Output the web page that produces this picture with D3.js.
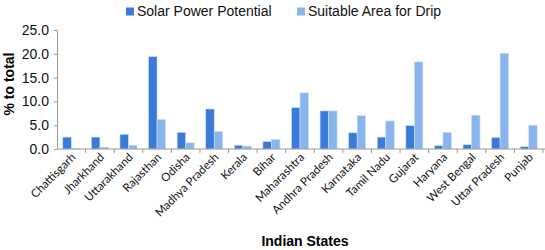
<!DOCTYPE html>
<html>
<head>
<meta charset="utf-8">
<script src="https://cdn.jsdelivr.net/npm/d3@7"></script>
<style>
  body { margin: 0; background: #fff; }
  svg { display: block; }
</style>
</head>
<body>
<div id="chart"></div>
<script>
// values
const states = ["Chattisgarh", "Jharkhand", "Uttarakhand", "Rajasthan", "Odisha", "Madhya Pradesh",
  "Kerala", "Bihar", "Maharashtra", "Andhra Pradesh", "Karnataka", "Tamil Nadu", "Gujarat",
  "Haryana", "West Bengal", "Uttar Pradesh", "Punjab"];
const solarPotential = [2.5, 2.5, 3.1, 19.4, 3.5, 8.4, 0.8, 1.6, 8.7, 8.0, 3.4, 2.5, 4.9, 0.7, 0.9, 2.4, 0.5];
const dripArea = [0.1, 0.4, 0.8, 6.2, 1.3, 3.7, 0.6, 2.0, 11.8, 8.0, 7.0, 5.9, 18.3, 3.5, 7.1, 20.1, 5.0];
const seriesNames = ["Solar Power Potential", "Suitable Area for Drip"];
const seriesColors = ["#3a7bd8", "#88b5ee"];
const yTicks = [0, 5, 10, 15, 20, 25];

const W = 545, H = 250;
const plot = { left: 57, right: 543, top: 30, bottom: 149 };

const svg = d3.select("#chart").append("svg").attr("width", W).attr("height", H);

const x = d3.scaleBand().domain(states).range([plot.left, plot.right]);
const xs = d3.scaleBand().domain([0, 1]).range([0, x.bandwidth()]).paddingInner(0).paddingOuter(0.68);
const y = d3.scaleLinear().domain([0, 25]).range([plot.bottom, plot.top]);

const rows = states.map((s, i) => ({ state: s, vals: [solarPotential[i], dripArea[i]] }));

// bars
const groups = svg.append("g").selectAll("g").data(rows).join("g")
  .attr("transform", d => `translate(${x(d.state)},0)`);
groups.selectAll("rect").data(d => d.vals.map((v, k) => ({ v, k }))).join("rect")
  .attr("x", d => xs(d.k))
  .attr("y", d => y(d.v))
  .attr("width", xs.bandwidth())
  .attr("height", d => y(0) - y(d.v))
  .attr("fill", d => seriesColors[d.k])
  .attr("stroke", "#cfe0f7")
  .attr("stroke-width", 0.6);

// y axis
const yAxis = svg.append("g").attr("transform", `translate(${plot.left},0)`)
  .call(d3.axisLeft(y).tickValues(yTicks).tickFormat(d3.format(".1f")).tickSize(3).tickPadding(5));
yAxis.select(".domain").attr("stroke", "#999");
yAxis.selectAll(".tick line").attr("stroke", "#999");
yAxis.selectAll("text").attr("font-family", "Liberation Sans, Arial, sans-serif")
  .attr("font-size", "14px").attr("fill", "#111");

// x axis: ticks at band boundaries
const xAxis = svg.append("g").attr("transform", `translate(0,${plot.bottom})`);
xAxis.append("line").attr("x1", plot.left).attr("x2", W).attr("stroke", "#999");
const bounds = states.map(s => x(s) + x.bandwidth());
xAxis.selectAll(".xt").data(bounds).join("line")
  .attr("x1", d => d).attr("x2", d => d).attr("y1", 0).attr("y2", 4).attr("stroke", "#999");
xAxis.selectAll(".xl").data(states).join("text")
  .attr("transform", d => `translate(${x(d) + x.bandwidth() / 2 + 5},${9}) rotate(-45)`)
  .attr("text-anchor", "end")
  .attr("font-family", "Lato, sans-serif")
  .attr("font-size", "11.5px")
  .attr("fill", "#111")
  .text(d => d);

// axis titles
svg.append("text")
  .attr("transform", `translate(14,84) rotate(-90)`)
  .attr("text-anchor", "middle")
  .attr("font-family", "Liberation Sans, Arial, sans-serif")
  .attr("font-weight", "bold").attr("font-size", "14px")
  .text("% to total");
svg.append("text")
  .attr("x", 305).attr("y", 246)
  .attr("text-anchor", "middle")
  .attr("font-family", "Liberation Sans, Arial, sans-serif")
  .attr("font-weight", "bold").attr("font-size", "14px")
  .text("Indian States");

// legend
const legendX = [126, 297];
const legend = svg.append("g").selectAll("g").data(seriesNames).join("g")
  .attr("transform", (d, i) => `translate(${legendX[i]},0)`);
legend.append("rect").attr("x", 0).attr("y", 7.5).attr("width", 8).attr("height", 8)
  .attr("fill", (d, i) => seriesColors[i]);
legend.append("text").attr("x", 11).attr("y", 16)
  .attr("font-family", "Liberation Sans, Arial, sans-serif")
  .attr("font-size", "14px").attr("fill", "#111")
  .text(d => d);
</script>
</body>
</html>
